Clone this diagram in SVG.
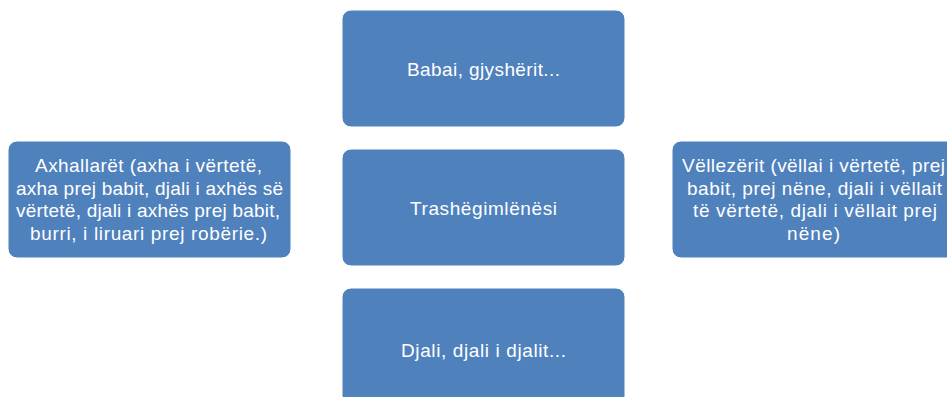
<svg xmlns="http://www.w3.org/2000/svg" width="947" height="397" viewBox="0 0 947 397">
<style>
.box{fill:#4F81BD;stroke:#ffffff;stroke-width:1}
.t{fill:#ffffff;font-family:"Liberation Sans","DejaVu Sans",sans-serif;font-size:19px;text-anchor:middle}
</style>
<rect width="947" height="397" fill="#ffffff"/>
<g id="connectors"></g>
<g id="node-babai">
<rect class="box" x="342" y="10" width="283" height="117" rx="9"/>
<text class="t" x="483.5" y="76" textLength="153" lengthAdjust="spacing">Babai, gjyshërit...</text>
</g>
<g id="node-trashegimlenesi">
<rect class="box" x="342" y="149" width="283" height="117" rx="9"/>
<text class="t" x="483.5" y="215" textLength="147" lengthAdjust="spacing">Trashëgimlënësi</text>
</g>
<g id="node-djali">
<rect class="box" x="342" y="288" width="283" height="117" rx="9"/>
<text class="t" x="483.5" y="357" textLength="165" lengthAdjust="spacing">Djali, djali i djalit...</text>
</g>
<g id="node-axhallaret">
<rect class="box" x="8" y="141" width="283" height="117" rx="9"/>
<text class="t" x="148.5" y="172" textLength="227" lengthAdjust="spacing">Axhallarët (axha i vërtetë,</text>
<text class="t" x="149.5" y="195" textLength="267" lengthAdjust="spacing">axha prej babit, djali i axhës së</text>
<text class="t" x="148" y="217" textLength="264" lengthAdjust="spacing">vërtetë, djali i axhës prej babit,</text>
<text class="t" x="148.5" y="240" textLength="237" lengthAdjust="spacing">burri, i liruari prej robërie.)</text>
</g>
<g id="node-vellezerit">
<rect class="box" x="672" y="141" width="283" height="117" rx="9"/>
<text class="t" x="813.5" y="172" textLength="263" lengthAdjust="spacing">Vëllezërit (vëllai i vërtetë, prej</text>
<text class="t" x="814.5" y="195" textLength="255" lengthAdjust="spacing">babit, prej nëne, djali i vëllait</text>
<text class="t" x="815" y="217" textLength="244" lengthAdjust="spacing">të vërtetë, djali i vëllait prej</text>
<text class="t" x="813.5" y="240" textLength="53" lengthAdjust="spacing">nëne)</text>
</g>
</svg>
